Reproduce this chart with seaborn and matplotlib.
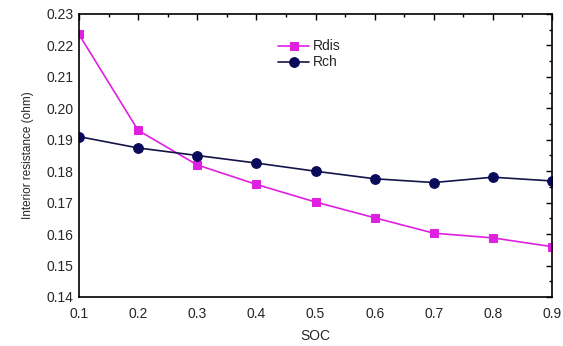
import matplotlib
matplotlib.use("Agg")
import matplotlib.pyplot as plt
import seaborn as sns
import pandas as pd
from matplotlib.ticker import MultipleLocator, AutoMinorLocator

soc = [0.1, 0.2, 0.3, 0.4, 0.5, 0.6, 0.7, 0.8, 0.9]
rdis = [0.2235, 0.1930, 0.1820, 0.1758, 0.1702, 0.1652, 0.1603, 0.1588, 0.1560]
rch = [0.1910, 0.1874, 0.1850, 0.1826, 0.1800, 0.1776, 0.1764, 0.1781, 0.1769]

sns.set_style("white")
plt.rcParams['font.family'] = ['Liberation Sans', 'DejaVu Sans']

df = pd.DataFrame({"SOC": soc + soc,
                   "R": rdis + rch,
                   "series": ["Rdis"] * len(soc) + ["Rch"] * len(soc)})

fig = plt.figure(figsize=(5.63, 3.46), dpi=100)
ax = fig.add_axes([79/563, 1 - 297/346, (552-79)/563, (297-14)/346])

sns.lineplot(data=df[df.series == "Rdis"], x="SOC", y="R", ax=ax, color="#e020e0",
             marker="s", markersize=6, markeredgecolor="#e020e0", linewidth=1.2,
             label="Rdis")
sns.lineplot(data=df[df.series == "Rch"], x="SOC", y="R", ax=ax, color="#14144a",
             marker="o", markersize=7, markeredgecolor="#0a0a5a", markerfacecolor="#0a0a5a",
             linewidth=1.2, label="Rch")

ax.set_xlim(0.1, 0.9)
ax.set_ylim(0.14, 0.23)
ax.xaxis.set_major_locator(MultipleLocator(0.1))
ax.yaxis.set_major_locator(MultipleLocator(0.01))
ax.xaxis.set_minor_locator(AutoMinorLocator(2))
ax.yaxis.set_minor_locator(AutoMinorLocator(2))
ax.set_xticklabels([f"{v:.1f}" for v in ax.get_xticks()])
ax.set_yticklabels([f"{v:.2f}" for v in ax.get_yticks()])
ax.tick_params(which="both", direction="in", top=True, right=True, labelsize=10, color="black")
ax.tick_params(axis="x", which="major", pad=7)
ax.tick_params(axis="y", which="major", pad=4)
ax.tick_params(which="major", length=4, width=1)
ax.tick_params(which="minor", length=2, width=1)
for s in ax.spines.values():
    s.set_color("black")
    s.set_linewidth(1.2)
ax.set_xlabel("SOC", fontsize=10, labelpad=6)
ax.set_ylabel("Interior resistance (ohm)", fontsize=8.5, labelpad=9)
leg = ax.legend(loc="upper left", bbox_to_anchor=(0.41, 0.93), frameon=False,
                fontsize=10, handlelength=2.2, labelspacing=0.15, borderaxespad=0,
                handletextpad=0.3)

fig.savefig("out.png", dpi=100)
